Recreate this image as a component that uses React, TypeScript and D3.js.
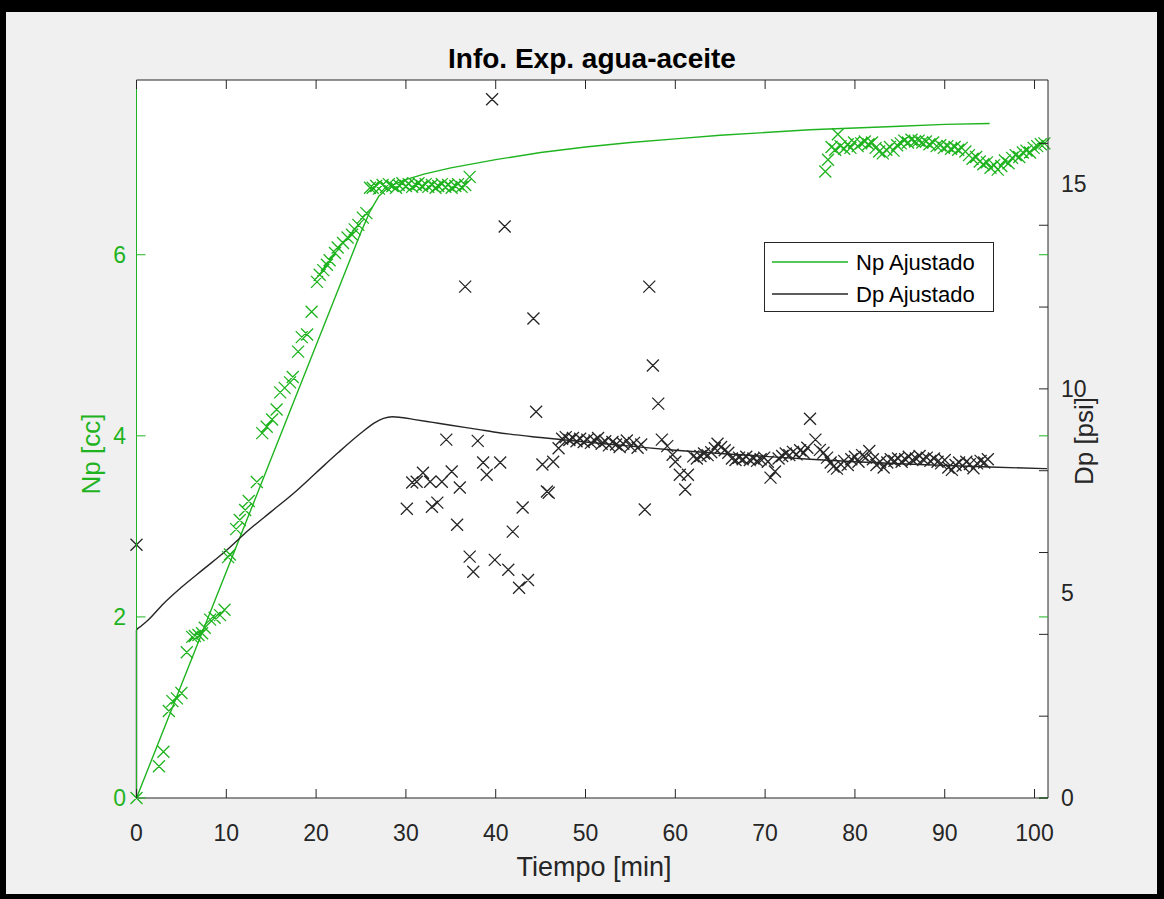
import React from "react";
import * as d3 from "d3";

// ---------- DATA ----------
const npFitT = [0, 5, 10, 15, 20, 25, 26, 27, 28, 29, 30, 32, 35, 40, 45, 50, 55, 60, 65, 70, 75, 80, 85, 90, 95];
const npFitV = [0, 1.25, 2.5, 3.75, 5.0, 6.25, 6.48, 6.65, 6.74, 6.79, 6.83, 6.89, 6.96, 7.05, 7.13, 7.19, 7.24, 7.28, 7.32, 7.35, 7.38, 7.4, 7.42, 7.44, 7.45];

const dpFitT = [0, 0, 0.5, 1.3, 3, 5, 7.5, 10, 12.5, 15, 17.5, 20, 22.5, 25, 26.5, 27.5, 28.5, 29.5, 31, 33, 35, 38, 40, 45, 50, 55, 60, 65, 70, 75, 80, 85, 90, 95, 101.4];
const dpFitV = [0, 4.1, 4.2, 4.35, 4.75, 5.15, 5.6, 6.05, 6.55, 7.0, 7.45, 7.95, 8.45, 8.92, 9.17, 9.28, 9.32, 9.3, 9.25, 9.18, 9.11, 9.01, 8.94, 8.81, 8.7, 8.6, 8.5, 8.42, 8.35, 8.28, 8.22, 8.17, 8.13, 8.09, 8.05];

const npObsT = [
  0, 2.5, 3.0, 3.6, 4.0, 4.5, 5.0, 5.6, 6.2, 6.5, 6.9, 7.3, 7.6, 8.2, 8.7, 9.3, 9.8, 10.2, 10.4, 11.1, 11.5, 12.1, 12.5, 13.4,
  14.0, 14.5, 15.1, 15.6, 16.0, 16.5, 17.1, 17.4, 18.0, 18.4, 19.0, 19.5, 20.1, 20.4, 20.8, 21.2, 21.5, 22.1, 22.4, 23.0, 23.5, 24.0, 24.3, 24.7, 25.2, 25.6,
  26.0, 26.3, 26.7, 27.0, 27.4, 27.8, 28.1, 28.5, 28.9, 29.2, 29.6, 30.0, 30.3, 30.7, 31.1, 31.4, 31.8, 32.2, 32.5, 32.9, 33.3, 33.6, 34.0, 34.4, 34.7, 35.1, 35.5, 35.8, 36.2, 36.6, 37.1,
  76.7, 77.0, 77.4, 77.8, 78.1, 78.4, 78.8, 79.2, 79.5, 79.9, 80.3, 80.7, 81.1, 81.5, 81.9, 82.3, 82.7, 83.1, 83.5, 83.9, 84.3, 84.7, 85.1, 85.5, 85.9, 86.3, 86.7, 87.1, 87.5, 87.9,
  88.3, 88.7, 89.1, 89.5, 89.9, 90.3, 90.7, 91.1, 91.5, 91.9, 92.3, 92.7, 93.1, 93.5, 93.9, 94.3, 94.7, 95.1, 95.5, 95.9, 96.3, 96.7, 97.1, 97.5, 97.9, 98.3, 98.7, 99.1, 99.5, 99.9, 100.3, 100.7, 101.1,
];
const npObsV = [
  0, 0.35, 0.51, 0.96, 1.07, 1.1, 1.16, 1.61, 1.78, 1.79, 1.8, 1.82, 1.88, 1.97, 1.99, 2.02, 2.08, 2.66, 2.69, 2.97, 3.07, 3.18, 3.28, 3.49,
  4.03, 4.1, 4.18, 4.29, 4.48, 4.53, 4.59, 4.65, 4.93, 5.09, 5.12, 5.37, 5.7, 5.78, 5.83, 5.89, 5.94, 6.02, 6.08, 6.13, 6.19, 6.22, 6.28, 6.33, 6.41, 6.46,
  6.74, 6.74, 6.76, 6.73, 6.77, 6.75, 6.78, 6.76, 6.74, 6.77, 6.79, 6.76, 6.78, 6.75, 6.77, 6.79, 6.76, 6.78, 6.75, 6.77, 6.74, 6.76, 6.78, 6.75, 6.77, 6.74, 6.76, 6.78, 6.75, 6.77, 6.86,
  6.92, 7.05, 7.19, 7.16, 7.33, 7.2, 7.17, 7.22, 7.18, 7.24, 7.2, 7.23, 7.25, 7.22, 7.24, 7.18, 7.14, 7.12, 7.16, 7.19, 7.15, 7.21, 7.23, 7.26, 7.24, 7.27, 7.25, 7.26, 7.24, 7.25,
  7.22, 7.24, 7.2, 7.21, 7.18, 7.2, 7.17, 7.19, 7.16, 7.18, 7.14, 7.1, 7.06, 7.08, 7.03, 7.0, 7.02, 6.96, 6.99, 6.94, 6.98, 7.04, 7.01, 7.07, 7.1, 7.08, 7.13, 7.15, 7.13, 7.18, 7.2, 7.22, 7.23,
];

const dpObsT = [
  0, 30.1, 30.7, 31.2, 31.9, 32.7, 32.9, 33.5, 34.0, 34.5, 35.1, 35.7, 36.0, 36.6, 37.1, 37.5, 38.0, 38.6, 39.0, 39.6, 39.9, 40.5, 41.0, 41.4, 41.9, 42.6, 43.0, 43.6,
  44.2, 44.5, 45.2, 45.7, 45.9, 46.4,
  47.0, 47.4, 47.8, 48.2, 48.6, 49.0, 49.4, 49.8, 50.2, 50.6, 51.0, 51.4, 51.8, 52.2, 52.6, 53.0, 53.4, 53.8, 54.2, 54.6, 55.0, 55.4, 55.8, 56.2,
  56.6, 57.1, 57.5, 58.1, 58.5, 59.1, 59.7, 60.0, 60.5, 61.1, 61.4,
  62.0, 62.4, 62.8, 63.2, 63.6, 64.0, 64.4, 64.7, 65.1, 65.5, 65.9, 66.3, 66.7, 67.1, 67.5, 67.9, 68.3, 68.7, 69.1, 69.5, 69.9, 70.3, 70.6, 71.1, 71.5, 71.9, 72.3, 72.7, 73.1, 73.5, 73.9, 74.3, 74.7,
  75.0, 75.6, 76.1, 76.5, 76.9, 77.3, 77.6, 78.0, 78.4, 78.8, 79.2, 79.6, 80.0, 80.4, 80.8, 81.2, 81.6, 82.0, 82.4, 82.8, 83.2, 83.6, 84.0, 84.4, 84.8, 85.2, 85.6, 86.0, 86.4, 86.8,
  87.2, 87.6, 88.0, 88.4, 88.8, 89.2, 89.6, 90.0, 90.4, 90.8, 91.2, 91.6, 92.0, 92.4, 92.8, 93.2, 93.6, 94.0, 94.4, 94.8,
];
const dpObsV = [
  6.19, 7.07, 7.71, 7.73, 7.95, 7.73, 7.12, 7.22, 7.73, 8.76, 7.98, 6.68, 7.59, 12.5, 5.9, 5.53, 8.73, 8.2, 7.9, 17.08, 5.82, 8.2, 13.97, 5.58, 6.51, 5.14, 7.1, 5.33,
  11.72, 9.44, 8.15, 7.49, 7.46, 8.22,
  8.55, 8.78, 8.82, 8.75, 8.8, 8.72, 8.78, 8.7, 8.76, 8.68, 8.74, 8.8, 8.66, 8.72, 8.62, 8.7, 8.64, 8.58, 8.66, 8.74, 8.6, 8.68, 8.56, 8.64,
  7.05, 12.5, 10.57, 9.64, 8.76, 8.6, 8.39, 8.22, 7.9, 7.54, 7.9,
  8.35, 8.3, 8.36, 8.42, 8.38, 8.45, 8.55, 8.66, 8.58, 8.5, 8.44, 8.3, 8.26, 8.32, 8.28, 8.34, 8.26, 8.3, 8.24, 8.28, 8.32, 8.22, 7.83, 7.98, 8.3, 8.36, 8.42, 8.38, 8.46, 8.4, 8.5, 8.44, 8.56,
  9.27, 8.76, 8.51, 8.44, 8.32, 8.2, 8.1, 8.05, 8.16, 8.24, 8.14, 8.28, 8.34, 8.22, 8.38, 8.32, 8.48, 8.28, 8.14, 8.22, 8.08, 8.2, 8.28, 8.24, 8.3, 8.22, 8.28, 8.34, 8.26, 8.3,
  8.36, 8.28, 8.32, 8.24, 8.3, 8.22, 8.18, 8.26, 8.08, 8.02, 8.14, 8.2, 8.12, 8.22, 8.16, 8.06, 8.18, 8.24, 8.2, 8.28,
];

const xTicks = [0, 10, 20, 30, 40, 50, 60, 70, 80, 90, 100];
const npTicks = [0, 2, 4, 6];
const dpTickMarks = [0, 2, 4, 6, 8, 10, 12, 14, 16];
const dpTickLabels = [0, 5, 10, 15];

const titleText = "Info. Exp. agua-aceite";
const xLabel = "Tiempo [min]";
const npLabel = "Np [cc]";
const dpLabel = "Dp [psi]";
const legendLabels = ["Np Ajustado", "Dp Ajustado"];

// ---------- STYLE ----------
const W = 1164, H = 899;
const L = 136.5, R = 1048, T = 80, B = 798;
const GREEN = "#1fb41f";
const AX = "#262626";
const FONT = "'Liberation Sans', Arial, Helvetica, sans-serif";

export default function App() {
  const x = d3.scaleLinear().domain([0, 101.5]).range([L, R]);
  const yL = d3.scaleLinear().domain([0, 7.93]).range([B, T]);
  const yR = d3.scaleLinear().domain([0, 17.55]).range([B, T]);

  const npLine = d3.line<number>().x((_, i) => x(npFitT[i])).y((v) => yL(v))(npFitV) || "";
  const dpLine = d3.line<number>().x((_, i) => x(dpFitT[i])).y((v) => yR(v)).curve(d3.curveMonotoneX)(dpFitV) || "";

  const mk = 6;
  const cross = (cx: number, cy: number) =>
    `M${cx - mk},${cy - mk}L${cx + mk},${cy + mk}M${cx - mk},${cy + mk}L${cx + mk},${cy - mk}`;

  const npMarks = npObsT.map((t, i) => cross(x(t), yL(npObsV[i]))).join("");
  const dpMarks = dpObsT.map((t, i) => cross(x(t), yR(dpObsV[i]))).join("");

  const tk = 9;

  return (
    <svg width={W} height={H} style={{ position: "absolute", left: 0, top: 0 }} fontFamily={FONT}>
      <rect x={0} y={0} width={W} height={H} fill="#000" />
      <rect x={6} y={12} width={1151} height={882} fill="#f0f0f0" />
      <rect x={L} y={T} width={R - L} height={B - T} fill="#fff" />

      <defs>
        <clipPath id="plotclip">
          <rect x={L - 8} y={T - 8} width={R - L + 16} height={B - T + 16} />
        </clipPath>
      </defs>

      {/* fitted curves */}
      <path d={npLine} fill="none" stroke={GREEN} strokeWidth={1.4} />
      <path d={dpLine} fill="none" stroke={AX} strokeWidth={1.4} />

      {/* markers */}
      <g clipPath="url(#plotclip)">
        <path d={npMarks} fill="none" stroke={GREEN} strokeWidth={1.3} />
        <path d={dpMarks} fill="none" stroke={AX} strokeWidth={1.3} />
      </g>

      {/* axes box */}
      <line x1={L} y1={T} x2={R} y2={T} stroke={AX} strokeWidth={1} />
      <line x1={L} y1={B} x2={R} y2={B} stroke={AX} strokeWidth={1} />
      <line x1={R} y1={T} x2={R} y2={B} stroke={AX} strokeWidth={1} />
      <line x1={L} y1={T} x2={L} y2={B} stroke={GREEN} strokeWidth={1} />

      {/* x ticks */}
      {xTicks.map((v) => (
        <g key={"x" + v}>
          <line x1={x(v)} x2={x(v)} y1={B} y2={B - tk} stroke={AX} />
          <line x1={x(v)} x2={x(v)} y1={T} y2={T + tk} stroke={AX} />
          <text x={x(v)} y={841} textAnchor="middle" fontSize={23} fill={AX}>{v}</text>
        </g>
      ))}

      {/* left (Np) ticks */}
      {npTicks.map((v) => (
        <g key={"n" + v}>
          <line x1={L} x2={L + tk} y1={yL(v)} y2={yL(v)} stroke={GREEN} />
          <line x1={R} x2={R - tk} y1={yL(v)} y2={yL(v)} stroke={GREEN} />
          <text x={126} y={yL(v) + 8} textAnchor="end" fontSize={23} fill={GREEN}>{v}</text>
        </g>
      ))}

      {/* right (Dp) ticks */}
      {dpTickMarks.map((v) => (
        <line key={"d" + v} x1={R} x2={R - tk} y1={yR(v)} y2={yR(v)} stroke={AX} />
      ))}
      {dpTickLabels.map((v) => (
        <text key={"dl" + v} x={1061} y={yR(v) + 8} fontSize={23} fill={AX}>{v}</text>
      ))}

      {/* labels */}
      <text x={592} y={68} textAnchor="middle" fontSize={28} fontWeight="bold" fill="#000">{titleText}</text>
      <text x={594} y={876} textAnchor="middle" fontSize={27} fill={AX}>{xLabel}</text>
      <text transform={`translate(100,454) rotate(-90)`} textAnchor="middle" fontSize={26} fill={GREEN}>{npLabel}</text>
      <text transform={`translate(1093,441) rotate(-90)`} textAnchor="middle" fontSize={26} fill={AX}>{dpLabel}</text>

      {/* legend */}
      <rect x={764.5} y={242.5} width={229} height={69} fill="#fff" stroke={AX} strokeWidth={1} />
      <line x1={772} x2={848} y1={262} y2={262} stroke={GREEN} strokeWidth={1.4} />
      <line x1={772} x2={848} y1={294} y2={294} stroke={AX} strokeWidth={1.4} />
      <text x={856} y={270} fontSize={22} fill="#000">{legendLabels[0]}</text>
      <text x={856} y={302} fontSize={22} fill="#000">{legendLabels[1]}</text>
    </svg>
  );
}
